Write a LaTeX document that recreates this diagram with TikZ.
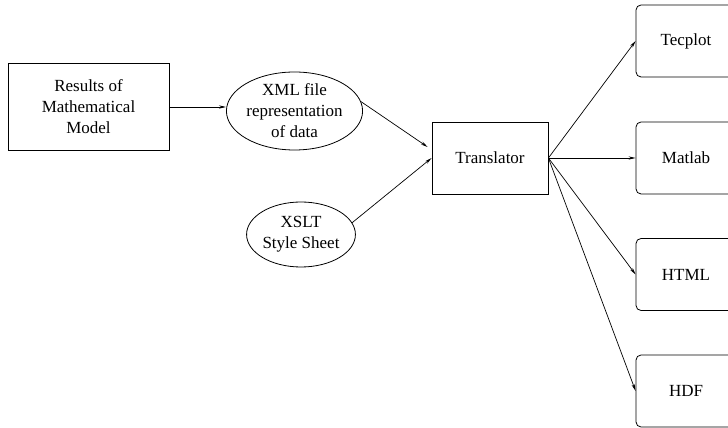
\documentclass[tikz,border=0pt]{standalone}
\usepackage{fontspec}
\setmainfont{Liberation Serif}
\usetikzlibrary{shapes.geometric,arrows.meta,calc}
\begin{document}
\begin{tikzpicture}[x=1pt,y=1pt,
  every node/.style={font=\fontsize{17}{21}\selectfont, align=center, inner sep=0pt, line width=0.8pt},
  sqbox/.style={draw, rectangle},
  oval/.style={draw, ellipse},
  outbox/.style={draw, rectangle, rounded corners=5pt, minimum width=100pt, minimum height=72pt},
  conn/.style={line width=0.7pt, -{Stealth[length=7pt,width=3.2pt]}}]
\useasboundingbox (0,0) rectangle (728,428);
\node[sqbox, minimum width=161pt, minimum height=87pt] (res) at (88.5,321) {Results of\\Mathematical\\Model};
\node[oval, minimum width=135pt, minimum height=78pt] (xml) at (294.5,317) {XML file\\representation\\of data};
\node[oval, minimum width=102pt, minimum height=65pt] (xslt) at (301,193.5) {XSLT\\Style Sheet};
\node[sqbox, minimum width=116pt, minimum height=72pt] (tr) at (490,270) {Translator};
\node[outbox] (tec) at (686,387) {Tecplot};
\node[outbox] (mat) at (686,270) {Matlab};
\node[outbox] (html) at (686,153.5) {HTML};
\node[outbox] (hdf) at (686,37) {HDF};
\coordinate (trin) at ($(tr.west)+(-4,11)$);
\draw[conn] (res.east) -- (res.east -| xml.west);
\draw[conn] (xml.8) -- (trin);
\draw[conn] (xslt.13) -- (tr.west);
\draw[conn] (tr.east) -- (tec.west);
\draw[conn] (tr.east) -- (mat.west);
\draw[conn] (tr.east) -- (html.west);
\draw[conn] (tr.east) -- (hdf.west);
\end{tikzpicture}
\end{document}
